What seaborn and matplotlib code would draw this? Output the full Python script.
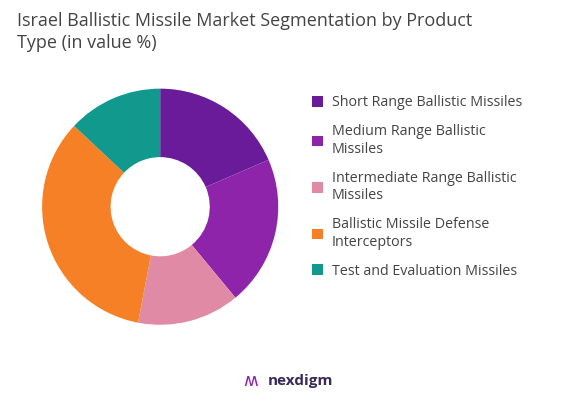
import matplotlib
matplotlib.use("Agg")
import matplotlib.pyplot as plt
import seaborn as sns
from matplotlib.patches import Patch

categories = [
    "Short Range Ballistic Missiles",
    "Medium Range Ballistic\nMissiles",
    "Intermediate Range Ballistic\nMissiles",
    "Ballistic Missile Defense\nInterceptors",
    "Test and Evaluation Missiles",
]
shares = [18.5, 20.5, 14.0, 34.0, 13.0]
colors = ["#6a1b9a", "#8e24aa", "#e08aa5", "#f58025", "#10998c"]

sns.set_theme(style="white")
plt.rcParams["font.family"] = ["Open Sans", "DejaVu Sans"]

fig = plt.figure(figsize=(5.69, 4.01), dpi=100)
ax = fig.add_axes([0.074, 0.19, 0.415, 0.589])
ax.pie(shares, colors=colors, startangle=90, counterclock=False,
       wedgeprops={"width": 0.58, "linewidth": 0})
ax.set_xlim(-1, 1)
ax.set_ylim(-1, 1)
ax.set_aspect("equal")

fig.text(0.03, 0.97, "Israel Ballistic Missile Market Segmentation by Product\nType (in value %)",
         ha="left", va="top", fontsize=13, color="#444444", linespacing=1.3)

handles = [Patch(facecolor=c, edgecolor="none") for c in colors]
fig.legend(handles, categories, loc="upper left", bbox_to_anchor=(0.525, 0.795),
           frameon=False, fontsize=10.3, labelcolor="#444444", handlelength=0.8,
           handleheight=0.8, handletextpad=0.6, labelspacing=1.0)

fig.text(0.47, 0.05, "nexdigm", ha="left", va="center", fontsize=11,
         color="#3a2a5a", fontweight="bold")
fig.text(0.44, 0.05, "\u028d", ha="center", va="center", fontsize=13, color="#8e24aa")

fig.savefig("out.png", dpi=100)
